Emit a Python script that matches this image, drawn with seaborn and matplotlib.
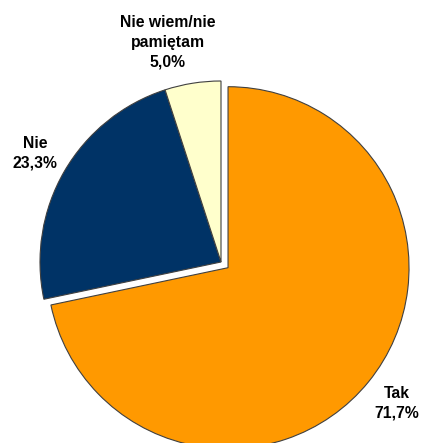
import matplotlib
matplotlib.use("Agg")
import matplotlib.pyplot as plt
import seaborn as sns

sns.set_theme(style="white")
plt.rcParams['font.family'] = ['Liberation Sans', 'DejaVu Sans']

categories = ["Tak", "Nie", "Nie wiem/nie\npamiętam"]
values = [71.7, 23.3, 5.0]
value_labels = ["71,7%", "23,3%", "5,0%"]
colors = ["#FF9900", "#003366", "#FFFFCC"]
explode = [0.05, 0.0, 0.0]

W, H = 421, 443
fig = plt.figure(figsize=(W / 100, H / 100), dpi=100)
ax = fig.add_axes([0, 0, 1, 1])

R = 181.0
cx, cy = 221.0, 262.0  # pixel center (from top)
ax.pie(values, colors=colors, startangle=90, counterclock=False,
       explode=explode, radius=1.0, center=(0, 0),
       wedgeprops=dict(edgecolor="#404040", linewidth=0.8))
ax.set_xlim(-cx / R, (W - cx) / R)
ax.set_ylim(-(H - cy) / R, cy / R)
ax.set_aspect("equal")
ax.axis("off")

label_pos = [(397, 403), (35, 153), (168, 42)]
for cat, vl, (px, py) in zip(categories, value_labels, label_pos):
    fig.text(px / W, 1 - py / H, f"{cat}\n{vl}", ha="center", va="center",
             multialignment="center", fontsize=11.3, fontweight="bold",
             color="black", linespacing=1.4)

fig.savefig("out.png", dpi=100, facecolor="white")
